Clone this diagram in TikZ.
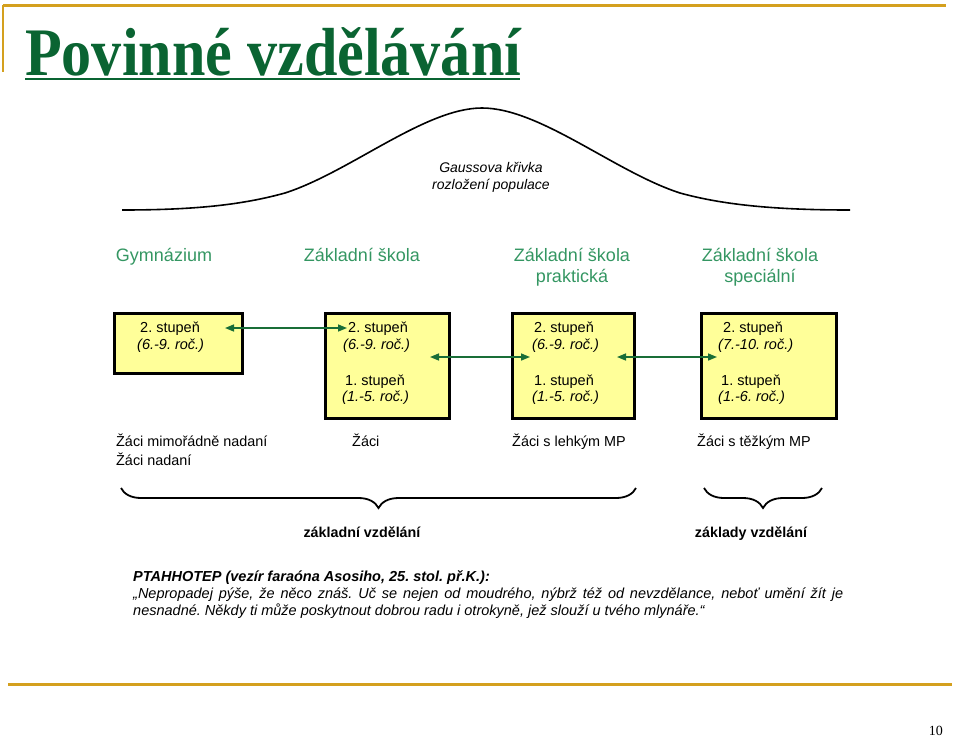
\documentclass[tikz,border=0pt]{standalone}
\usepackage{fontspec}
\setmainfont{Liberation Sans}
\newfontfamily\titleserif{Liberation Serif}
\usetikzlibrary{arrows.meta,decorations.pathreplacing}
\definecolor{gold}{RGB}{212,160,30}
\definecolor{titlegreen}{RGB}{10,100,50}
\definecolor{labgreen}{RGB}{52,150,98}
\definecolor{arrgreen}{RGB}{25,110,55}
\definecolor{boxfill}{RGB}{255,255,153}
\tikzset{
  stbox/.style={draw=black, line width=3pt, fill=boxfill, inner sep=0pt, anchor=north west},
  btxt/.style={anchor=base west, inner sep=0pt, font=\fontsize{14.5}{17}\selectfont},
  school/.style={align=center, inner sep=0pt, text=labgreen, font=\fontsize{18}{21}\selectfont},
  pupil/.style={anchor=base west, inner sep=0pt, font=\fontsize{14.4}{19}\selectfont, align=left},
  edu/.style={anchor=base, inner sep=0pt, font=\bfseries\fontsize{14.3}{17}\selectfont},
  quote/.style={anchor=base west, inner sep=0pt, font=\itshape\fontsize{14.5}{17}\selectfont},
  dblarrow/.style={arrgreen, line width=1.5pt, {Triangle[length=9pt,width=7pt]}-{Triangle[length=9pt,width=7pt]}},
  goldline/.style={gold, line width=3pt},
  bracestyle/.style={draw=black, line width=1.8pt, decorate, decoration={brace, mirror, amplitude=20pt}}
}
\begin{document}
\frenchspacing
\begin{tikzpicture}[x=1pt,y=-1pt]
\useasboundingbox (0,0) rectangle (960,737);

% frame lines
\coordinate (tl) at (3,5);
\coordinate (tr) at (946,5);
\coordinate (lb) at (3,72);
\coordinate (bl) at (8,684);
\coordinate (br) at (952,684);
\draw[goldline] (tl) -- (tr);
\draw[gold, line width=1.5pt] (tl) -- (lb);
\draw[goldline] (bl) -- (br);

% title
\node[anchor=base west, inner sep=0pt, text=titlegreen] (title) at (25,75)
  {\scalebox{0.884}[1]{\titleserif\bfseries\fontsize{68}{70}\selectfont Povinné vzdělávání}};
\coordinate (ul1) at (25,79);
\coordinate (ul2) at (520,79);
\draw[titlegreen, line width=2.5pt] (ul1) -- (ul2);

% page number
\node[anchor=base east, inner sep=0pt, font=\titleserif\fontsize{14}{16}\selectfont] (pnum) at (943,735) {10};

% Gaussian curve
\draw[black, line width=1.6pt] (122,210) .. controls (200,210) and (245,204) .. (285,193)
  .. controls (350,172) and (425,108) .. (482,108)
  .. controls (540,108) and (615,172) .. (680,193)
  .. controls (720,204) and (770,210) .. (850,210);
\node[align=center, inner sep=0pt, font=\itshape\fontsize{14}{17}\selectfont, anchor=base] (gauss) at (491,189)
  {Gaussova křivka\\rozložení populace};

% school types
\node[school, anchor=base] (gym) at (164,261) {Gymnázium};
\node[school, anchor=base] (zs) at (362,261) {Základní škola};
\node[school, anchor=base] (zsp) at (572,282) {Základní škola\\praktická};
\node[school, anchor=base] (zss) at (760,282) {Základní škola\\speciální};

% boxes
\node[stbox, minimum width=128pt, minimum height=60pt] (b1) at (113,312) {};
\node[stbox, minimum width=124pt, minimum height=105pt] (b2) at (324,312) {};
\node[stbox, minimum width=122pt, minimum height=105pt] (b3) at (511,312) {};
\node[stbox, minimum width=135pt, minimum height=105pt] (b4) at (700,312) {};

\node[btxt] (t1a) at (140,332) {2. stupeň};
\node[btxt] (t1b) at (137,349) {\itshape (6.-9. roč.)};

\node[btxt] (t2a) at (348,332) {2. stupeň};
\node[btxt] (t2b) at (343,349) {\itshape (6.-9. roč.)};
\node[btxt] (t2c) at (345,385) {1. stupeň};
\node[btxt] (t2d) at (342,401) {\itshape (1.-5. roč.)};

\node[btxt] (t3a) at (534,332) {2. stupeň};
\node[btxt] (t3b) at (532,349) {\itshape (6.-9. roč.)};
\node[btxt] (t3c) at (534,385) {1. stupeň};
\node[btxt] (t3d) at (532,401) {\itshape (1.-5. roč.)};

\node[btxt] (t4a) at (723,332) {2. stupeň};
\node[btxt] (t4b) at (718,349) {\itshape (7.-10. roč.)};
\node[btxt] (t4c) at (721,385) {1. stupeň};
\node[btxt] (t4d) at (718,401) {\itshape (1.-6. roč.)};

% arrows
\coordinate (a1s) at (225,328);
\coordinate (a1e) at (347,328);
\coordinate (a2s) at (430,357);
\coordinate (a2e) at (530,357);
\coordinate (a3s) at (617,357);
\coordinate (a3e) at (717,357);
\draw[dblarrow] (a1s) -- (a1e);
\draw[dblarrow] (a2s) -- (a2e);
\draw[dblarrow] (a3s) -- (a3e);

% pupils
\node[pupil] (p1) at (116,465) {Žáci mimořádně nadaní\\Žáci nadaní};
\node[pupil] (p2) at (352,446) {Žáci};
\node[pupil] (p3) at (512,446) {Žáci s lehkým MP};
\node[pupil] (p4) at (697,446) {Žáci s těžkým MP};

% braces
\coordinate (br1a) at (121,488);
\coordinate (br1b) at (636,488);
\coordinate (br2a) at (704,488);
\coordinate (br2b) at (822,488);
\draw[bracestyle] (br1a) -- (br1b);
\draw[bracestyle] (br2a) -- (br2b);

\node[edu] (e1) at (362,537) {základní vzdělání};
\node[edu] (e2) at (751,537) {základy vzdělání};

% quote
\node[quote, font=\bfseries\itshape\fontsize{14.5}{17}\selectfont] (q0) at (133,581) {PTAHHOTEP (vezír faraóna Asosiho, 25. stol. př.K.):};
\node[quote] (q1) at (133,598) {\makebox[710pt][s]{„Nepropadej pýše, že něco znáš. Uč se nejen od moudrého, nýbrž též od nevzdělance, neboť umění žít je}};
\node[quote] (q2) at (133,615) {nesnadné. Někdy ti může poskytnout dobrou radu i otrokyně, jež slouží u tvého mlynáře.“};
\end{tikzpicture}
\end{document}
